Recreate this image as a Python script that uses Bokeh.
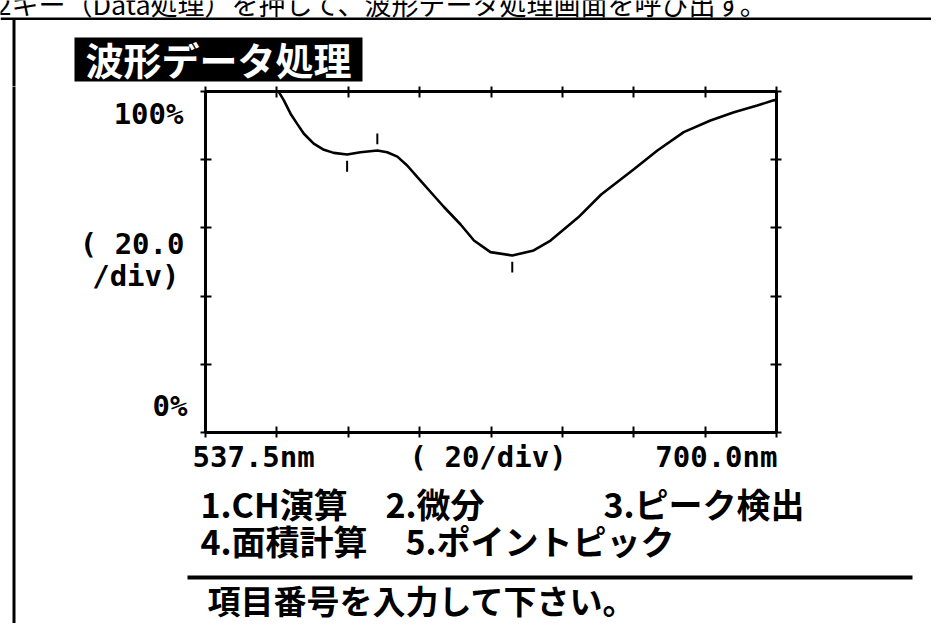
import numpy as np
from bokeh.plotting import figure
from bokeh.layouts import column, row
from bokeh.models import Range1d, LinearAxis, FixedTicker, CustomJSTickFormatter
from bokeh.core.properties import value
from bokeh.embed import file_html
from bokeh.resources import INLINE

# ---- data ----
wavelength_nm = [556.5, 558.4, 559.8, 561.7, 563.6, 565.5, 568.3, 571.2, 574.0, 577.8,
                 581.6, 586.4, 589.2, 592.1, 594.9, 597.8, 601.5, 605.3, 610.1, 613.9,
                 618.6, 624.8, 630.9, 635.7, 643.6, 650.1, 659.5, 666.1, 673.6, 681.2,
                 687.9, 694.5, 699.2, 700.0]
transmittance_pct = [104.0, 99.8, 97.4, 93.5, 90.5, 87.6, 84.7, 82.9, 82.0, 81.5,
                     82.2, 82.7, 82.2, 80.9, 78.3, 74.9, 70.6, 66.2, 61.0, 56.3,
                     52.9, 51.9, 53.4, 56.3, 63.1, 69.8, 77.3, 82.7, 88.1, 91.5,
                     93.9, 95.9, 97.4, 97.6]
marker_nm = [577.8, 586.4, 624.8]      # detected peak / valley positions
marker_side = [-1, 1, -1]               # -1: valley (mark below), 1: peak (mark above)
y_tick_values = [0, 20, 40, 60, 80, 100]
x_start_label = "537.5nm"
x_end_label = "700.0nm"
x_div_label = "(  20/div)"
y_top_label = "100%"
y_bottom_label = "0%"
y_div_label = ["( 20.0", "/div)"]
title_text = "波形データ処理"
header_text = "2キー（Data処理）を押して、波形データ処理画面を呼び出す。"
menu_line1 = ["1.CH演算", "2.微分", "3.ピーク検出"]
menu_line2 = ["4.面積計算", "5.ポイントピック"]
prompt_text = "項目番号を入力して下さい。"

X0, X1 = 537.5, 700.0
Y0, Y1 = 0.0, 100.0

# layout geometry (pixels)
W, H = 931, 623
FL, FT, FW, FH = 205, 91, 571, 341   # plot frame
BT, B = 5, 8                          # borders around plot frame (axes live there)
BC = 20                               # width of the left border column
MX0, MX1 = FL - B, FL + FW + B
MY0, MY1 = FT - BT, FT + FH + B

JP = value("Noto Sans CJK JP")
MONO = value("DejaVu Sans Mono")


def deco(x0, x1, y0, y1):
    f = figure(width=x1 - x0, height=y1 - y0, x_range=Range1d(x0, x1), y_range=Range1d(y1, y0),
               output_backend="svg", toolbar_location=None, min_border=0,
               x_axis_location=None, y_axis_location=None)
    f.grid.visible = False
    f.outline_line_color = None
    f.background_fill_color = "white"
    f.border_fill_color = "white"
    return f


def bar(f, x0, x1, y0, y1):
    f.quad(left=[x0], right=[x1], top=[y0], bottom=[y1], fill_color="black", line_color=None)


def txt(f, x, y, t, font, size, align="left", color="black", style="normal"):
    f.text(x=[x], y=[y], text=[t], text_font=font, text_font_size=size, text_align=align,
           text_baseline="middle", text_color=color, text_font_style=style)


# ---- main chart ----
p = figure(frame_width=FW, frame_height=FH, x_range=Range1d(X0, X1), y_range=Range1d(Y0, Y1),
           output_backend="svg", toolbar_location=None,
           x_axis_location=None, y_axis_location=None,
           min_border_left=B, min_border_right=B, min_border_top=BT, min_border_bottom=B)
p.grid.visible = False
p.outline_line_color = None
p.background_fill_color = "white"
p.border_fill_color = "white"

x_ticks = list(np.linspace(X0, X1, 9))
for loc, ticks in [("left", y_tick_values), ("right", y_tick_values),
                   ("above", x_ticks), ("below", x_ticks)]:
    ax = LinearAxis(ticker=FixedTicker(ticks=ticks),
                    formatter=CustomJSTickFormatter(code="return ''"),
                    axis_line_width=3, axis_line_color="black",
                    major_tick_in=6, major_tick_out=5, major_tick_line_width=2,
                    major_tick_line_color="black", minor_tick_line_color=None,
                    major_label_standoff=0, major_label_text_font_size="0px")
    p.add_layout(ax, loc)

p.line(wavelength_nm, transmittance_pct, line_color="black", line_width=2.6)

mk_y = np.interp(marker_nm, wavelength_nm, transmittance_pct)
side = np.array(marker_side)
p.segment(x0=marker_nm, x1=marker_nm, y0=mk_y + side * 1.8, y1=mk_y + side * 5.0,
          line_color="black", line_width=2)

# ---- top strip (full width): header, title ----
top = deco(0, W, 0, MY0)
bar(top, 0, W, 17, 19.5)
bar(top, 12, 15, 18, MY0 + 1)
txt(top, -4, 3, header_text, JP, "27px")
bar(top, 74, 362, 37, 81)
txt(top, 218, 58, title_text, JP, "38px", align="center", color="white", style="bold")

# ---- left border column (continuous) ----
bcol = deco(0, BC, MY0, H)
bar(bcol, 12, 15, MY0 - 1, H)

# ---- left strip: y labels ----
left = deco(BC, MX0, MY0, MY1)
txt(left, 183, 109, y_top_label, MONO, "29px", align="right", style="bold")
txt(left, 184, 244, y_div_label[0], MONO, "29px", align="right", style="bold")
txt(left, 179, 278, y_div_label[1], MONO, "29px", align="right", style="bold")
txt(left, 187, 412, y_bottom_label, MONO, "29px", align="right", style="bold")

# ---- right strip ----
right = deco(MX1, W, MY0, MY1)

# ---- bottom strip: x labels, menu ----
bot = deco(BC, W, MY1, H)
txt(bot, 192, 456, x_start_label, MONO, "29px", style="bold")
txt(bot, 409, 456, x_div_label, MONO, "29px", style="bold")
txt(bot, 777, 456, x_end_label, MONO, "29px", align="right", style="bold")
for rx, t in zip([200, 385, 603], menu_line1):
    txt(bot, rx, 503, t, JP, "34px", style="bold")
for rx, t in zip([200, 405], menu_line2):
    txt(bot, rx, 540, t, JP, "34px", style="bold")
bar(bot, 187, 912, 575, 579)
txt(bot, 207, 599, prompt_text, JP, "33px", style="bold")

layout = column(top,
                row(bcol, column(row(left, p, right, spacing=0), bot, spacing=0), spacing=0),
                spacing=0)
open("out.html", "w").write(file_html(layout, INLINE))
